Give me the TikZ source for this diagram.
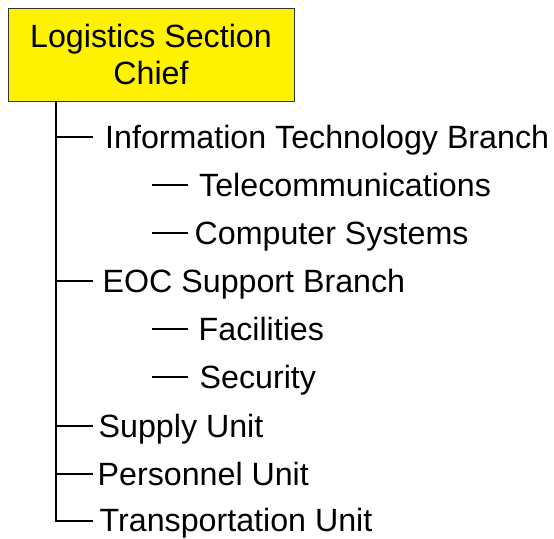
\documentclass[tikz,border=0pt]{standalone}
\usepackage{fontspec}
\setmainfont{Liberation Sans}
\begin{document}
\begin{tikzpicture}[x=1pt,y=-1pt,
	item/.style={anchor=west, inner sep=0pt, text height=22pt, text depth=0pt, font=\fontsize{32.2}{38}\selectfont},
	branch/.style={line width=2pt},
	chiefbox/.style={draw=black!80, line width=0.8pt, fill=yellow, align=center, minimum width=286pt, minimum height=93pt, inner sep=0pt, font=\fontsize{32.2}{37}\selectfont}]
				\useasboundingbox (0,0) rectangle (554,538);
				\node[chiefbox] (chief) at (151,54.5){Logistics Section\\Chief};
				\coordinate (trunk) at ([xshift=48pt]chief.south west);
				\node[item] (it) at (105,137){Information Technology Branch};
				\node[item] (telecom) at (199,185){Telecommunications};
				\node[item] (computer) at (194.5,233){Computer Systems};
				\node[item] (eoc) at (102.5,281){EOC Support Branch};
				\node[item] (facilities) at (198.5,329){Facilities};
				\node[item] (security) at (199.5,377){Security};
				\node[item] (supply) at (98.5,426){Supply Unit};
				\node[item] (personnel) at (97.5,474){Personnel Unit};
				\node[item] (transport) at (99.5,520.5){Transportation Unit};
				\draw[branch](trunk)--(trunk |- transport.west)--++(37,0);
				\draw[branch](trunk |- it.west)--++(37,0);
				\draw[branch](trunk |- eoc.west)--++(37,0);
				\draw[branch](trunk |- supply.west)--++(37,0);
				\draw[branch](trunk |- personnel.west)--++(37,0);
				\draw[branch]([xshift=-47pt]telecom.west)--++(36,0);
				\draw[branch]([xshift=-42.5pt]computer.west)--++(36,0);
				\draw[branch]([xshift=-46.5pt]facilities.west)--++(36,0);
				\draw[branch]([xshift=-47.5pt]security.west)--++(36,0);
				\end{tikzpicture}
\end{document}
